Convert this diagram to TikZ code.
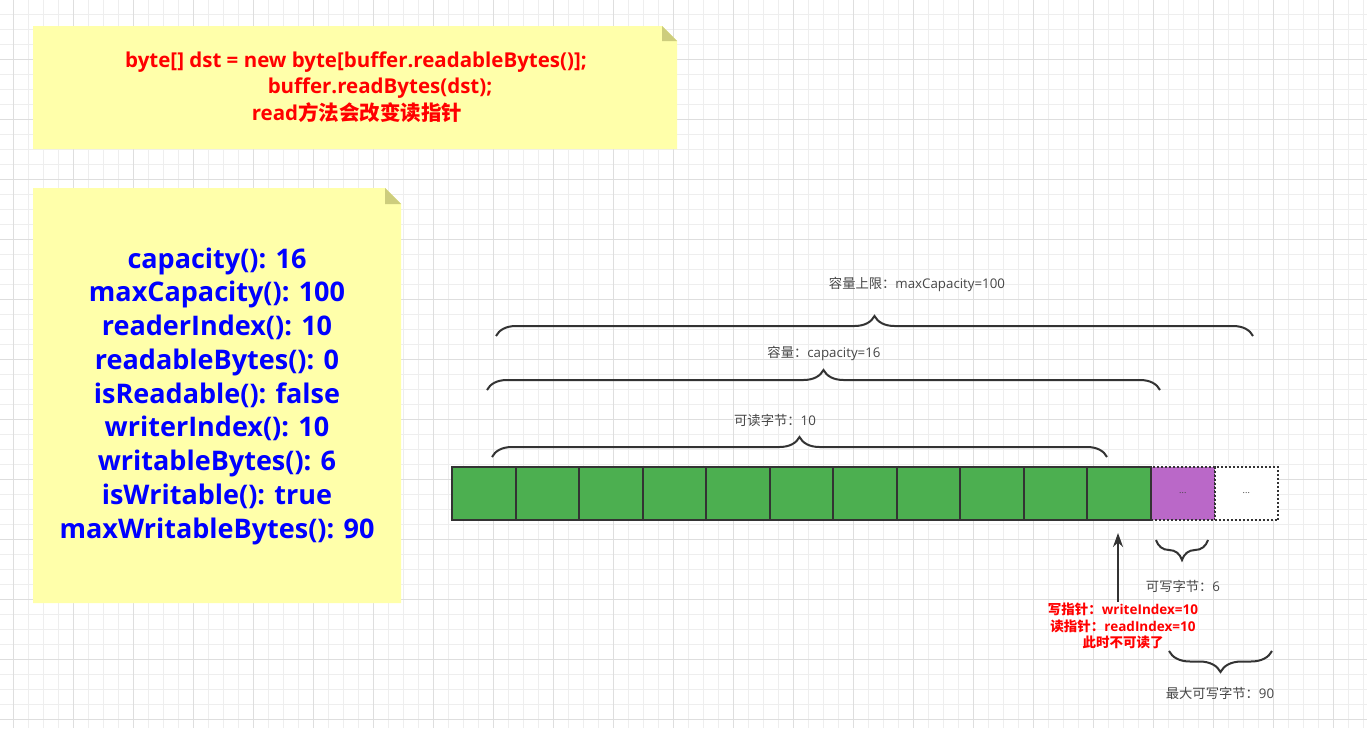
\documentclass[tikz,border=0pt]{standalone}
\usepackage{fontspec}
\setmainfont{Open Sans}
\newfontfamily\cjk{Noto Sans CJK SC}
\usetikzlibrary{positioning,arrows.meta,decorations.pathreplacing}
\definecolor{NoteYellow}{RGB}{255,255,170}
\definecolor{NoteFold}{RGB}{205,205,125}
\definecolor{CodeRed}{RGB}{255,0,0}
\definecolor{StatBlue}{RGB}{0,0,255}
\definecolor{CellGreen}{RGB}{76,175,80}
\definecolor{CellPurple}{RGB}{186,104,200}
\definecolor{LineDark}{RGB}{51,51,51}
\definecolor{LabelGrey}{RGB}{70,70,70}
\definecolor{GridMinor}{RGB}{238,238,238}
\definecolor{GridMajor}{RGB}{222,222,222}
\tikzset{
  cell/.style={draw=LineDark,fill=CellGreen,line width=2pt,
    minimum width=63.545pt,minimum height=53pt,inner sep=0pt,outer sep=0pt},
  spare/.style={cell,dotted,text=LabelGrey,font=\fontsize{9}{9}\selectfont},
  curly/.style={decorate,decoration={brace,amplitude=20pt},line width=2pt,draw=LineDark},
  dimlabel/.style={text=LabelGrey,font=\fontsize{13.3}{15}\selectfont,inner sep=1pt},
  codeline/.style={text=CodeRed,font=\bfseries\fontsize{20.5}{22}\selectfont,inner sep=1pt},
  ptrlabel/.style={text=CodeRed,font=\bfseries\fontsize{13.5}{16.5}\selectfont,align=center,inner sep=1pt},
  ptrarrow/.style={-{Stealth[length=14pt,width=10pt]},line width=2pt,draw=LineDark}
}
\begin{document}
\begin{tikzpicture}[x=1pt,y=-1pt]
  \useasboundingbox (0,0) rectangle (1367,728);
  \fill[white] (0,0) rectangle (1367,728);
  % grid
  \foreach \k in {0,...,91}
    \draw[GridMinor,line width=1pt] ({13.3+15*\k-15},0) -- ({13.3+15*\k-15},728);
  \foreach \k in {0,...,49}
    \draw[GridMinor,line width=1pt] (0,{15*\k-0.7}) -- (1367,{15*\k-0.7});
  \foreach \k in {0,...,23}
    \draw[GridMajor,line width=1pt] ({13.3+60*\k},0) -- ({13.3+60*\k},728);
  \foreach \k in {0,...,12}
    \draw[GridMajor,line width=1pt] (0,{60*\k-0.7}) -- (1367,{60*\k-0.7});
  % notes
  \fill[NoteYellow] (33,26) -- (662,26) -- (677,41) -- (677,149) -- (33,149) -- cycle;
  \fill[NoteFold] (662,26) -- (662,41) -- (677,41) -- cycle;
  \node[codeline] (code1) at (356,62) {byte[] dst = new byte[buffer.readableBytes()];};
  \node[codeline] (code2) at (380,88) {buffer.readBytes(dst);};
  \node[codeline] (code3) at (357,113) {read{\cjk 方法会改变读指针}};
  \fill[NoteYellow] (33,188) -- (385,188) -- (401,204) -- (401,603) -- (33,603) -- cycle;
  \fill[NoteFold] (385,188) -- (385,204) -- (401,204) -- cycle;
  \node[text=StatBlue,font=\bfseries\fontsize{27}{33.75}\selectfont,align=center] (stats) at (217,396)
    {capacity(): 16\\maxCapacity(): 100\\readerIndex(): 10\\readableBytes(): 0\\isReadable(): false\\
     writerIndex(): 10\\writableBytes(): 6\\isWritable(): true\\maxWritableBytes(): 90};
  % buffer cells
  \node[spare,fill=CellPurple] (c12) at (1182.8,493.5) {...};
  \node[spare,fill=white] (c13) at (1246.3,493.5) {...};
  \foreach \i in {1,...,11}
    \node[cell] (c\i) at ({452+63.545*(\i-0.5)},493.5) {};
  % braces
  \draw[curly] (496,336) -- (1253,336);
  \node[dimlabel] (maxcap) at (917,284) {{\cjk 容量上限：}maxCapacity=100};
  \draw[curly] (487,390) -- (1160,390);
  \node[dimlabel] (cap) at (824,353) {{\cjk 容量：}capacity=16};
  \draw[curly] (492,457) -- (1107,457);
  \node[dimlabel] (readable) at (775,420) {{\cjk 可读字节：}10};
  \draw[curly] (1208,540) -- (1156,540);
  \node[dimlabel] (writable) at (1183,586) {{\cjk 可写字节：}6};
  \draw[curly,decoration={amplitude=21pt}] (1272,651) -- (1169,651);
  \node[dimlabel] (maxwritable) at (1220,693) {{\cjk 最大可写字节：}90};
  % pointer
  \coordinate (wtip) at (1118,533);
  \node[ptrlabel] (ptr) at (1123,626) {{\cjk 写指针：}writeIndex=10\\{\cjk 读指针：}readIndex=10\\{\cjk 此时不可读了}};
  \draw[ptrarrow] (ptr.north -| wtip) -- (wtip);
\end{tikzpicture}
\end{document}
